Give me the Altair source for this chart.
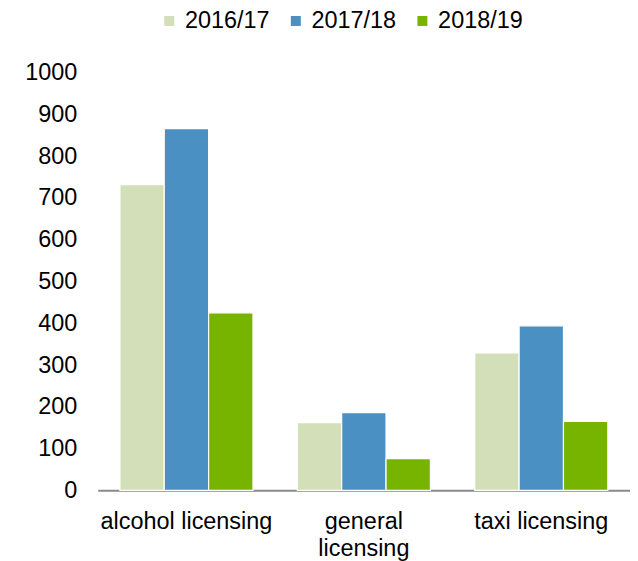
import altair as alt
import pandas as pd

categories = ["alcohol licensing", "general licensing", "taxi licensing"]
years = ["2016/17", "2017/18", "2018/19"]
v_2016 = [732, 162, 329]
v_2017 = [866, 186, 394]
v_2018 = [425, 76, 165]
colors = ["#d3dfb8", "#4a90c2", "#77b400"]

rows = []
for i, c in enumerate(categories):
    for y, vals in zip(years, [v_2016, v_2017, v_2018]):
        rows.append({"category": c, "year": y, "value": vals[i]})
df = pd.DataFrame(rows)

FONT = "Liberation Sans"
FS = 23.5

chart = alt.Chart(df).mark_bar(stroke="white", strokeWidth=1.2).encode(
    x=alt.X("category:N", sort=categories, title=None,
            scale=alt.Scale(paddingInner=0.25, paddingOuter=0.125),
            axis=alt.Axis(labelAngle=0, labelFontSize=FS, labelFont=FONT, labelColor="#000000",
                          labelPadding=19, ticks=False, domainColor="#8a8a8a", domainWidth=2,
                          labelLineHeight=27,
                          labelExpr="datum.label == 'general licensing' ? ['general', 'licensing'] : datum.label")),
    xOffset=alt.XOffset("year:N", sort=years),
    y=alt.Y("value:Q", title=None,
            scale=alt.Scale(domain=[0, 1000]),
            axis=alt.Axis(values=list(range(0, 1001, 100)), format="d", labelFontSize=FS, labelFont=FONT,
                          labelColor="#000000", grid=False, domain=False, ticks=False, labelPadding=21)),
    color=alt.Color("year:N", sort=years,
                    scale=alt.Scale(domain=years, range=colors),
                    legend=alt.Legend(title=None, orient="none", direction="horizontal",
                                      legendX=60, legendY=-64, symbolType="square", symbolSize=100,
                                      symbolStrokeWidth=0, labelFontSize=FS, labelFont=FONT,
                                      labelColor="#000000", columnPadding=14, labelOffset=4)),
).properties(
    width=534, height=419,
    autosize=alt.AutoSizeParams(type="none"),
    padding={"left": 90, "top": 64, "right": 0, "bottom": 70},
).configure_view(stroke=None)

chart.save("out.html", embed_options={"renderer": "svg", "actions": False})
